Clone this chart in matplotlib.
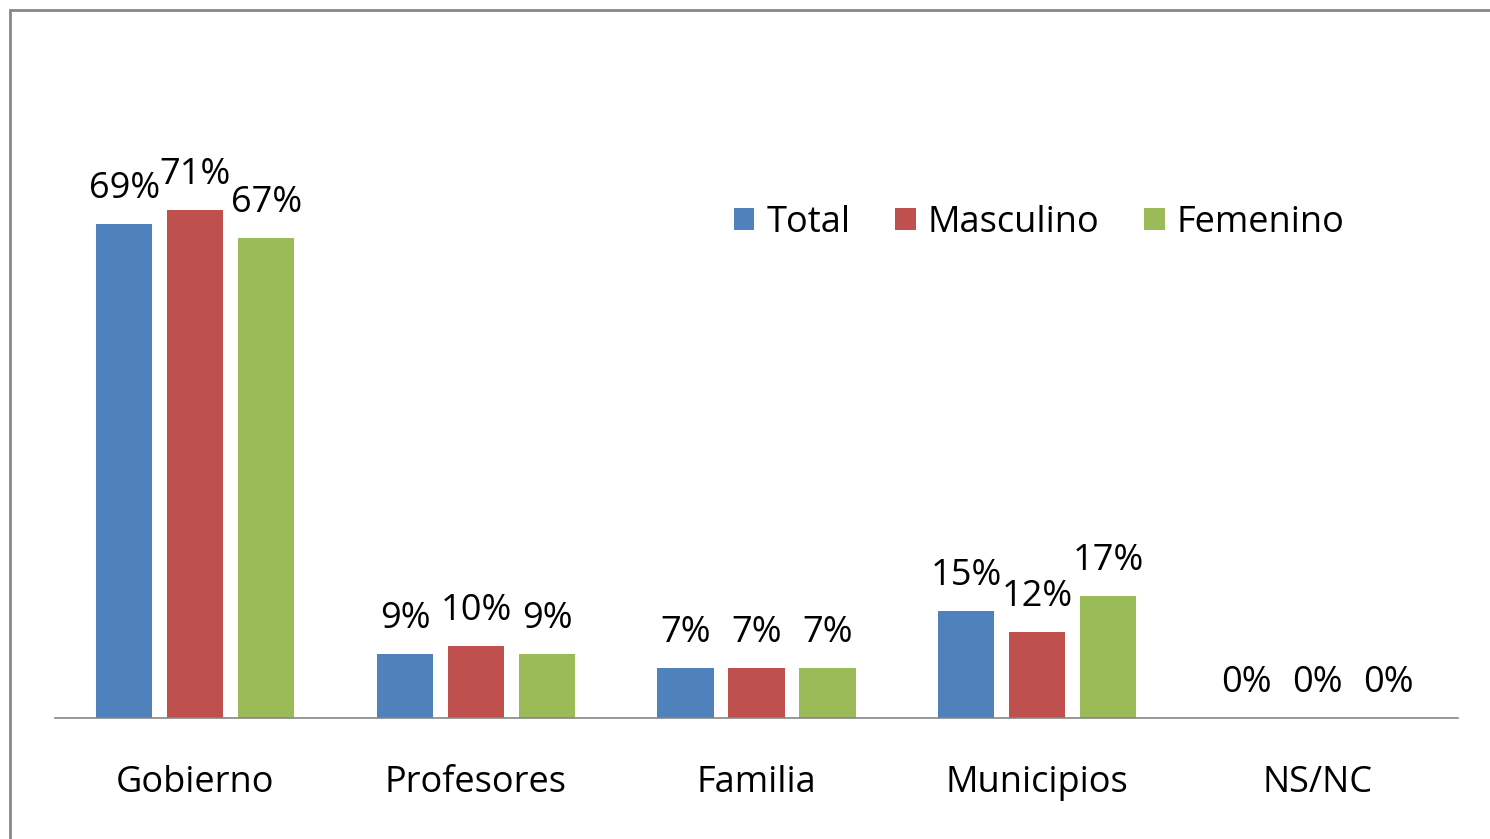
import matplotlib
matplotlib.use("Agg")
import matplotlib.pyplot as plt
from matplotlib.patches import Rectangle, Patch
import numpy as np

categories = ["Gobierno", "Profesores", "Familia", "Municipios", "NS/NC"]
series_names = ["Total", "Masculino", "Femenino"]
total = [0.69, 0.09, 0.07, 0.15, 0.0]
masculino = [0.71, 0.10, 0.07, 0.12, 0.0]
femenino = [0.67, 0.09, 0.07, 0.17, 0.0]
labels_total = ["69%", "9%", "7%", "15%", "0%"]
labels_masc = ["71%", "10%", "7%", "12%", "0%"]
labels_fem = ["67%", "9%", "7%", "17%", "0%"]

colors = ["#4F81BD", "#C0504D", "#9BBB59"]

plt.rcParams['font.family'] = ['Open Sans', 'DejaVu Sans']
FS = 26

W, H = 1490, 839
fig = plt.figure(figsize=(W / 100, H / 100), dpi=100)
ax = fig.add_axes([55 / W, (H - 718) / H, 1403 / W, 0.8 * 716 / H])

x = np.arange(len(categories))
bw = 0.2
step = 0.253
series = [total, masculino, femenino]
lbls = [labels_total, labels_masc, labels_fem]
for i, (vals, lab, c) in enumerate(zip(series, lbls, colors)):
    pos = x + (i - 1) * step
    ax.bar(pos, vals, width=bw, color=c, edgecolor='none', zorder=2)
    for px, v, t in zip(pos, vals, lab):
        ax.annotate(t, (px, v), xytext=(0, 26), textcoords='offset pixels',
                    ha='center', va='baseline', fontsize=FS, color='#000000')

ax.set_xlim(-0.5, len(categories) - 0.5)
ax.set_ylim(0, 0.8)
ax.set_yticks([])
ax.set_xticks(x)
ax.set_xticklabels(categories, fontsize=FS)
ax.tick_params(axis='x', length=0, pad=34)
for s in ['top', 'right', 'left']:
    ax.spines[s].set_visible(False)
ax.spines['bottom'].set_color('#868686')
ax.spines['bottom'].set_linewidth(1.2)
ax.patch.set_alpha(0)

handles = [Patch(facecolor=c, edgecolor='none', label=n) for c, n in zip(colors, series_names)]
fig.legend(handles=handles, loc='center left', bbox_to_anchor=(734 / W, 1 - 223 / H),
           ncol=3, frameon=False, fontsize=FS, handlelength=0.56, handleheight=0.56,
           handletextpad=0.33, columnspacing=1.25, borderpad=0, borderaxespad=0)

fig.patches.append(Rectangle((10 / W, -0.1), 1.2, 1 - 10 / H + 0.1, transform=fig.transFigure,
                             fill=False, edgecolor='#878787', linewidth=2.0))

fig.savefig("out.png", dpi=100)
